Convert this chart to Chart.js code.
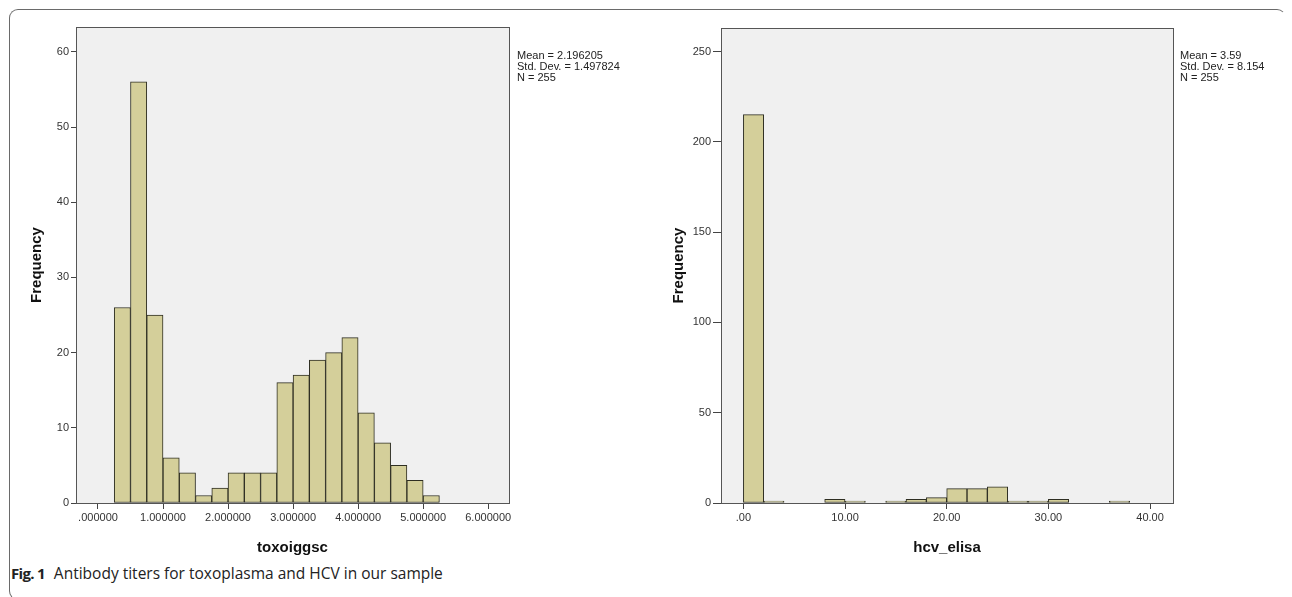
<!DOCTYPE html>
<html>
<head>
<meta charset="utf-8">
<script src="https://cdn.jsdelivr.net/npm/chart.js@4/dist/chart.umd.min.js"></script>
<style>
    body { margin: 0; background: #fff; width: 1292px; height: 597px; overflow: hidden; position: relative; font-family: "Liberation Sans", Arial, sans-serif; }
    .frame { position: absolute; left: 9px; top: 9px; right: 6px; bottom: -3px; border: 1px solid #6a6a6a; border-right-color: transparent; border-bottom-color: transparent; border-radius: 9px; }
    .box { position: absolute; top: 0; height: 560px; }
    .stats { position: absolute; font-size: 11px; line-height: 11px; color: #222; }
    .caption { position: absolute; left: 11px; top: 562px; font-family: "Open Sans", "Noto Sans", sans-serif; font-size: 15.5px; color: #222; white-space: nowrap; }
    .caption b { font-weight: 700; font-size: 15px; letter-spacing: -0.7px; margin-right: 9px; }
</style>
</head>
<body>
<div class="frame"></div>
<div class="box" style="left:0;width:520px"><canvas id="chartToxo"></canvas></div>
<div class="box" style="left:660px;width:632px"><canvas id="chartHcv"></canvas></div>
<div class="stats" style="left:517px;top:50px">Mean = 2.196205<br>Std. Dev. = 1.497824<br>N = 255</div>
<div class="stats" style="left:1180px;top:50px">Mean = 3.59<br>Std. Dev. = 8.154<br>N = 255</div>
<div class="caption"><b>Fig. 1</b>Antibody titers for toxoplasma and HCV in our sample</div>
<script>
// bin centres and counts
const toxoBins = [0.375, 0.625, 0.875, 1.125, 1.375, 1.625, 1.875, 2.125, 2.375, 2.625,
                  2.875, 3.125, 3.375, 3.625, 3.875, 4.125, 4.375, 4.625, 4.875, 5.125];
const toxoCounts = [26, 56, 25, 6, 4, 1, 2, 4, 4, 4, 16, 17, 19, 20, 22, 12, 8, 5, 3, 1];

const hcvBins = [1, 3, 5, 7, 9, 11, 13, 15, 17, 19, 21, 23, 25, 27, 29, 31, 33, 35, 37];
const hcvCounts = [215, 1, 0, 0, 2, 1, 0, 1, 2, 3, 8, 8, 9, 1, 1, 2, 0, 0, 1];

const barFill = "#d4cf9a";
const barLine = "#2e2e22";
const tickFont = { family: "'Liberation Sans', Arial, sans-serif", size: 11 };
const titleFont = { family: "'Liberation Sans', Arial, sans-serif", size: 15, weight: "bold" };

const plotFrame = {
    id: "plotFrame",
    beforeDraw(chart) {
        const a = chart.chartArea;
        const ctx = chart.ctx;
        ctx.save();
        ctx.fillStyle = "#f0f0f0";
        ctx.fillRect(a.left, a.top, a.right - a.left, a.bottom - a.top);
        ctx.restore();
    },
    afterDraw(chart) {
        const a = chart.chartArea;
        const ctx = chart.ctx;
        ctx.save();
        ctx.strokeStyle = "#555";
        ctx.lineWidth = 1;
        ctx.strokeRect(Math.round(a.left) + 0.5, Math.round(a.top) + 0.5,
            Math.round(a.right - a.left), Math.round(a.bottom - a.top));
        ctx.restore();
    }
};

function makeHist(id, bins, counts, cfg) {
    const ctx = document.getElementById(id).getContext("2d");
    return new Chart(ctx, {
        type: "bar",
        data: {
            datasets: [
                {
                    data: bins.map((b, i) => ({ x: b, y: counts[i] })),
                    backgroundColor: barFill,
                    borderColor: barLine,
                    borderWidth: 1,
                    borderSkipped: false,
                    barPercentage: 1,
                    categoryPercentage: 1
                }
            ]
        },
        options: {
            responsive: true,
            maintainAspectRatio: false,
            animation: false,
            layout: { padding: cfg.padding },
            plugins: {
                legend: { display: false },
                tooltip: { enabled: false }
            },
            scales: {
                x: {
                    type: "linear",
                    offset: false,
                    min: cfg.xMin,
                    max: cfg.xMax,
                    border: { display: false },
                    grid: { offset: false, drawOnChartArea: false, drawTicks: true, tickLength: 6, color: "#444" },
                    ticks: {
                        stepSize: cfg.xStep,
                        includeBounds: false,
                        autoSkip: false,
                        maxRotation: 0,
                        padding: 2,
                        color: "#333",
                        font: tickFont,
                        callback: cfg.xFormat
                    },
                    afterBuildTicks: s => {
                        s.ticks = s.ticks.filter(t => t.value >= cfg.xMin && t.value <= cfg.xMax &&
                            Math.abs(t.value / cfg.xStep - Math.round(t.value / cfg.xStep)) < 1e-9);
                    },
                    afterFit: s => { s.height = 57; },
                    title: { display: true, text: cfg.xTitle, color: "#111", font: titleFont, padding: { top: 4, bottom: 3 } }
                },
                y: {
                    min: 0,
                    max: cfg.yMax,
                    border: { display: false },
                    grid: { drawOnChartArea: false, drawTicks: true, tickLength: cfg.yTick, color: "#444" },
                    ticks: { stepSize: cfg.yStep, includeBounds: false, padding: 2, color: "#333", font: tickFont },
                    afterBuildTicks: s => {
                        s.ticks = s.ticks.filter(t => t.value % cfg.yStep === 0);
                    },
                    afterFit: s => { s.width = cfg.yWidth; },
                    title: { display: true, text: "Frequency", color: "#111", font: titleFont, padding: { top: 4, bottom: 4 } }
                }
            }
        },
        plugins: [plotFrame]
    });
}

makeHist("chartToxo", toxoBins, toxoCounts, {
    padding: { left: 24, top: 27, right: 11, bottom: 0 },
    xMin: -0.338, xMax: 6.32, xStep: 1,
    xFormat: v => (v === 0 ? ".000000" : v.toFixed(6)),
    xTitle: "toxoiggsc",
    yMax: 63.3, yStep: 10, yTick: 5, yWidth: 52
});

makeHist("chartHcv", hcvBins, hcvCounts, {
    padding: { left: 6, top: 28, right: 119, bottom: 0 },
    xMin: -2.2, xMax: 42.26, xStep: 10,
    xFormat: v => (v === 0 ? ".00" : v.toFixed(2)),
    xTitle: "hcv_elisa",
    yMax: 263, yStep: 50, yTick: 8, yWidth: 55
});
</script>
</body>
</html>
